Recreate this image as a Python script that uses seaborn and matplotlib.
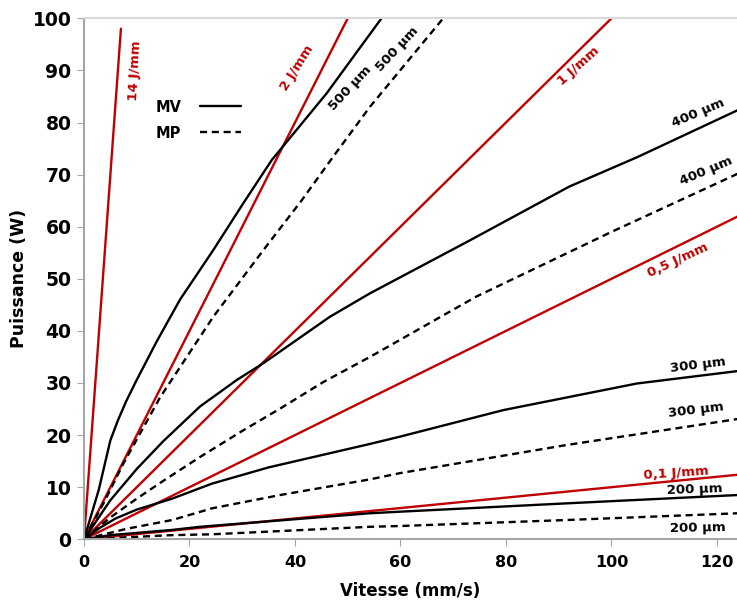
#plot.py
#Puissance vs Vitesse - iso energy lines and MV / MP curves

import matplotlib
matplotlib.use('Agg')
import matplotlib.pyplot as plt
import seaborn as sns
from matplotlib.lines import Line2D

#Red iso-energy lines (end points)
e14_v = [0, 7]
e14_p = [0, 98]
e2_v = [0, 50]
e2_p = [0, 100]
e1_v = [0, 100]
e1_p = [0, 100]
e05_v = [0, 124]
e05_p = [0, 62]
e01_v = [0, 124]
e01_p = [0, 12.4]

#MV curves (solid)
mv500_v = [0, 2.8, 5, 6.5, 8, 10, 13.8, 18.2, 24.5, 30.2, 35.6, 46, 56.4]
mv500_p = [0, 9.5, 19, 23, 26.5, 30.6, 38, 46, 55.5, 64.5, 72.8, 85.6, 100]
mv400_v = [0, 5, 10, 15, 22, 29, 34, 46.6, 54.2, 73.2, 92, 105, 124]
mv400_p = [0, 7.5, 13.5, 18.8, 25.5, 30.6, 33.8, 42.7, 47.2, 57.4, 67.7, 73.4, 82.4]
mv300_v = [0, 3, 6, 10, 16.7, 24.3, 35, 54.2, 59.9, 79.5, 104.8, 124]
mv300_p = [0, 2.2, 4, 5.7, 7.8, 10.7, 13.8, 18.3, 19.7, 24.8, 29.9, 32.3]
mv200_v = [0, 5, 16.7, 22, 54.2, 59.9, 91.5, 124]
mv200_p = [0, 0.8, 1.8, 2.4, 5.0, 5.3, 6.9, 8.5]

#MP curves (dashed)
mp500_v = [0, 4, 7.5, 14.4, 24.5, 34, 41.3, 47, 54.2, 68.1]
mp500_p = [0, 7.5, 14.6, 27.2, 42.7, 55.5, 65.1, 73.1, 83, 100]
mp400_v = [0, 5, 10, 15, 22, 30, 37.2, 45.4, 54.2, 74.4, 100, 124]
mp400_p = [0, 4.2, 7.8, 11.2, 15.8, 20.8, 25.1, 30.2, 35, 46.6, 59, 70.2]
mp300_v = [0, 8, 16.7, 24.3, 37.2, 54.2, 59.9, 91.5, 124]
mp300_p = [0, 2, 3.7, 5.95, 8.5, 11.5, 12.7, 18.1, 23.1]
mp200_v = [0, 16.7, 24.3, 54.2, 59.9, 91.5, 124]
mp200_p = [0, 0.8, 0.96, 2.4, 2.55, 3.7, 5.0]

#Labels: text, x, y, rotation, colour
red = '#c00000'
labels = [
    ('14 J/mm', 9.7, 89.9, 87, red),
    ('2 J/mm', 40.4, 90.4, 58, red),
    ('500 µm', 50.5, 86.5, 47, 'black'),
    ('500 µm', 59.3, 94.0, 47, 'black'),
    ('1 J/mm', 93.7, 90.8, 42, red),
    ('400 µm', 116.5, 81.9, 23, 'black'),
    ('400 µm', 117.9, 70.7, 23, 'black'),
    ('0,5 J/mm', 112.5, 53.6, 25, red),
    ('300 µm', 116.3, 33.5, 7, 'black'),
    ('300 µm', 116.0, 24.8, 7, 'black'),
    ('0,1 J/mm', 112.2, 12.7, 4, red),
    ('200 µm', 115.7, 9.5, 2, 'black'),
    ('200 µm', 116.3, 2.2, 1, 'black'),
]

sns.set_style('white')
plt.rcParams['font.family'] = ['DejaVu Sans']
plt.rcParams['font.weight'] = 'bold'
plt.rcParams['text.color'] = 'black'
plt.rcParams['axes.labelcolor'] = 'black'

fig = plt.figure(figsize=(7.37, 6.05), dpi=100)
ax = fig.add_axes([84/737, 65.7/605, 653/737, 521/605])

lw = 1.7
dash = (0, (3, 2))

#Red lines
for v, p in [(e14_v, e14_p), (e2_v, e2_p), (e1_v, e1_p), (e05_v, e05_p), (e01_v, e01_p)]:
    sns.lineplot(x=v, y=p, ax=ax, color=red, lw=lw, sort=False, estimator=None)

#MV solid
for v, p in [(mv500_v, mv500_p), (mv400_v, mv400_p), (mv300_v, mv300_p), (mv200_v, mv200_p)]:
    sns.lineplot(x=v, y=p, ax=ax, color='black', lw=lw, sort=False, estimator=None)

#MP dashed
for v, p in [(mp500_v, mp500_p), (mp400_v, mp400_p), (mp300_v, mp300_p), (mp200_v, mp200_p)]:
    sns.lineplot(x=v, y=p, ax=ax, color='black', lw=lw, linestyle=dash, sort=False, estimator=None)

for txt, x, y, rot, col in labels:
    ax.text(x, y, txt, color=col, rotation=rot, rotation_mode='anchor',
            ha='center', va='center', fontsize=9.5, fontweight='bold')

ax.set_xlim(0, 123.8)
ax.set_ylim(0, 100)
ax.set_xticks(range(0, 121, 20))
ax.set_yticks(range(0, 101, 10))
ax.tick_params(axis='x', labelsize=11.5, length=5, color='#a6a6a6', labelcolor='black',
               direction='out', pad=6, bottom=True)
ax.tick_params(axis='y', labelsize=13.5, length=5, color='#a6a6a6', labelcolor='black',
               direction='out', pad=4, left=True)
for t in ax.get_xticklabels() + ax.get_yticklabels():
    t.set_fontweight('bold')

ax.spines['right'].set_visible(False)
ax.spines['top'].set_color('#d9d9d9')
ax.spines['top'].set_linewidth(1.5)
for s in ['left', 'bottom']:
    ax.spines[s].set_color('#a6a6a6')
    ax.spines[s].set_linewidth(1.5)

ax.set_xlabel('Vitesse (mm/s)', fontsize=12, fontweight='bold', labelpad=9)
ax.set_ylabel('Puissance (W)', fontsize=12.5, fontweight='bold', labelpad=3)

#Legend with text before the line
handles = [Line2D([], [], color='black', lw=lw),
           Line2D([], [], color='black', lw=lw, linestyle=dash)]
leg = ax.legend(handles, ['MV', 'MP'], loc='upper left', bbox_to_anchor=(0.098, 0.858),
                frameon=False, markerfirst=False, handlelength=2.8, handletextpad=1.3,
                labelspacing=0.75, borderpad=0, prop={'size': 10.5, 'weight': 'bold'})

plt.savefig('out.png', dpi=100)
